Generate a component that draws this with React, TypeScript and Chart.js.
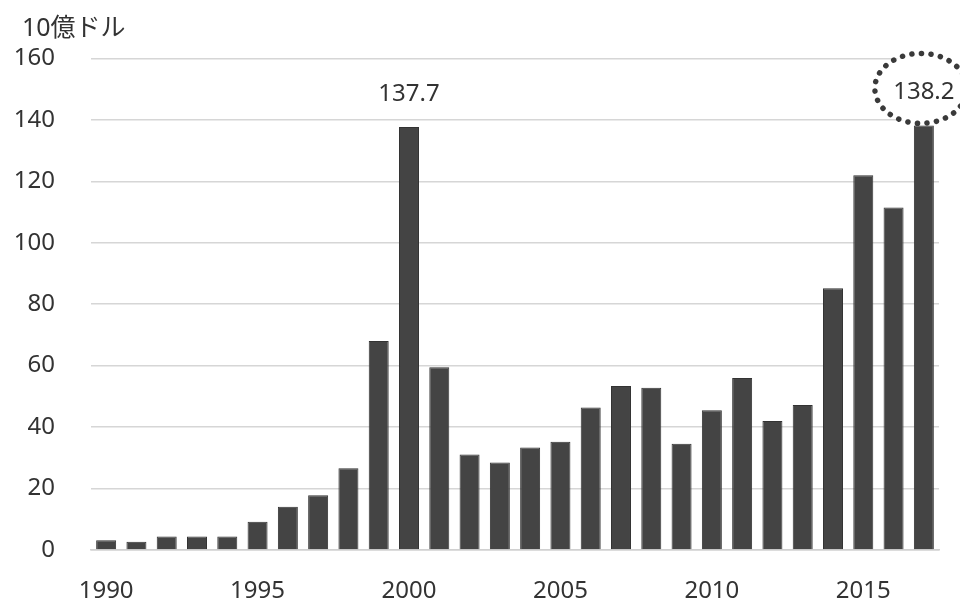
import React, { useEffect, useRef } from "react";
import { Chart, registerables } from "chart.js";

Chart.register(...registerables);

const years: string[] = [
  "1990", "1991", "1992", "1993", "1994", "1995", "1996", "1997", "1998", "1999",
  "2000", "2001", "2002", "2003", "2004", "2005", "2006", "2007", "2008", "2009",
  "2010", "2011", "2012", "2013", "2014", "2015", "2016", "2017",
];
const values: number[] = [
  3.2, 2.7, 4.4, 4.4, 4.4, 9.2, 14.1, 17.8, 26.6, 68.0,
  137.7, 59.5, 31.1, 28.5, 33.4, 35.2, 46.4, 53.4, 52.8, 34.6,
  45.5, 56.0, 42.0, 47.2, 85.2, 122.0, 111.5, 138.2,
];
const shownYearLabels: string[] = ["1990", "1995", "2000", "2005", "2010", "2015"];
const annotatedIndexes: number[] = [10, 27];
const circledIndex = 27;
const unitTitle = "10億ドル";

const FONT = '"Noto Sans", "Noto Sans CJK JP", sans-serif';
const TEXT = "#333333";

const annotationPlugin = {
  id: "peakLabels",
  afterDatasetsDraw(chart: any) {
    const ctx = chart.ctx;
    const meta = chart.getDatasetMeta(0);
    const yScale = chart.scales.y;
    ctx.save();
    // unit title above the value axis
    ctx.fillStyle = TEXT;
    ctx.font = `25px ${FONT}`;
    ctx.textAlign = "left";
    ctx.textBaseline = "middle";
    ctx.fillText(unitTitle, 14, 21);

    annotatedIndexes.forEach((i) => {
      const bar = meta.data[i];
      const v = values[i];
      const x = bar.x;
      const y = yScale.getPixelForValue(v) - 33;
      if (i === circledIndex) {
        ctx.save();
        ctx.beginPath();
        ctx.ellipse(x - 3, y - 4, 46, 35, 0, 0, Math.PI * 2);
        ctx.fillStyle = "#ffffff";
        ctx.fill();
        ctx.setLineDash([0.1, 9.5]);
        ctx.lineCap = "round";
        ctx.lineWidth = 5.5;
        ctx.strokeStyle = "#3a3a3a";
        ctx.stroke();
        ctx.restore();
      }
      ctx.fillStyle = TEXT;
      ctx.font = `24px ${FONT}`;
      ctx.textAlign = "center";
      ctx.textBaseline = "middle";
      ctx.fillText(v.toFixed(1), x, y);
    });
    ctx.restore();
  },
};

export default function App() {
  const ref = useRef<HTMLCanvasElement | null>(null);
  useEffect(() => {
    if (!ref.current) return;
    const chart = new Chart(ref.current, {
      type: "bar",
      data: {
        labels: years,
        datasets: [
          {
            data: values,
            backgroundColor: "#444444",
            borderColor: "#333333",
            borderWidth: 1,
            barPercentage: 0.66,
            categoryPercentage: 1,
          },
        ],
      },
      options: {
        animation: false,
        responsive: true,
        maintainAspectRatio: false,
        layout: { padding: { left: 0, right: 21, top: 50, bottom: 0 } },
        plugins: {
          legend: { display: false },
          tooltip: { enabled: false },
          title: { display: false },
        },
        scales: {
          x: {
            grid: { display: false, drawTicks: false },
            border: { display: true, color: "#d0d0d0", width: 1.5 },
            ticks: {
              autoSkip: false,
              maxRotation: 0,
              padding: 27,
              color: TEXT,
              font: { family: FONT, size: 24 },
              callback: (_v: any, i: number) =>
                shownYearLabels.includes(years[i]) ? years[i] : "",
            },
            afterFit: (s: any) => {
              s.height = 51;
            },
          },
          y: {
            min: 0,
            max: 160,
            grid: { color: "#d6d6d6", lineWidth: 1.5, drawTicks: false },
            border: { display: false },
            ticks: {
              stepSize: 20,
              padding: 36,
              color: TEXT,
              font: { family: FONT, size: 24 },
            },
            afterFit: (s: any) => {
              s.width = 83;
            },
          },
        },
      },
      plugins: [annotationPlugin],
    });
    return () => chart.destroy();
  }, []);
  return (
    <div style={{ position: "relative", width: "100%", height: 593 }}>
      <canvas ref={ref} />
    </div>
  );
}
